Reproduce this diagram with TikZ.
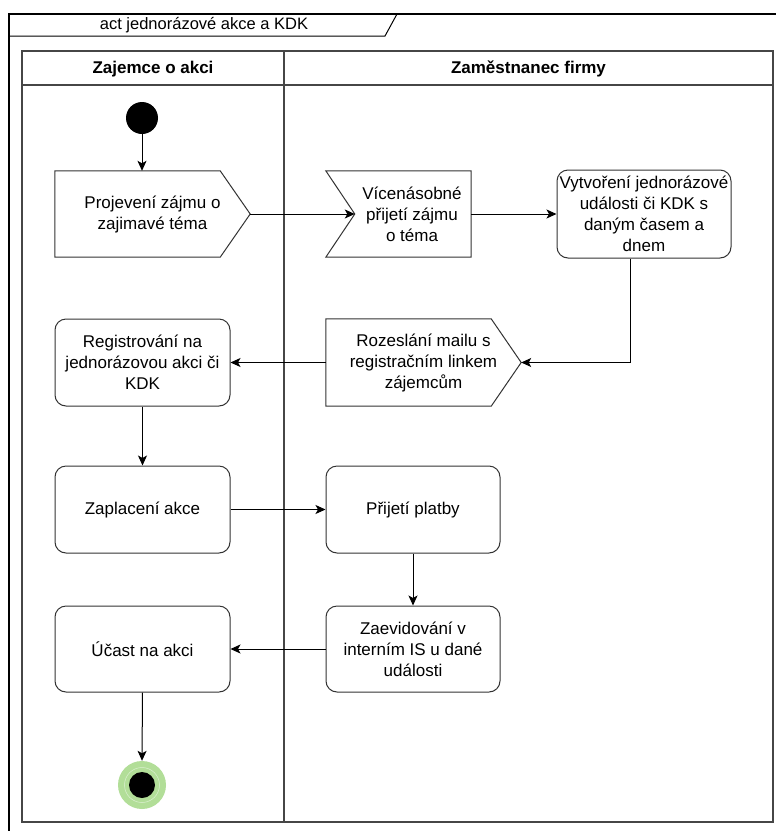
\documentclass[tikz,border=0pt]{standalone}
\usepackage{fontspec}
\setmainfont{Liberation Sans}
\usetikzlibrary{arrows.meta,calc}
\definecolor{endgreen}{RGB}{178,222,152}
\definecolor{lanegray}{RGB}{70,70,70}
\tikzset{
  act/.style={draw=black!80, line width=1pt, rounded corners=11pt, align=center,
    inner sep=0pt, font=\fontsize{17}{21}\selectfont},
  txt/.style={align=center, inner sep=0pt, font=\fontsize{17}{21}\selectfont},
  box/.style={inner sep=0pt},
  outline/.style={draw=black!80, line width=1pt},
  flow/.style={line width=1pt, -{Stealth[length=10pt,width=9pt,inset=2.5pt]}},
  head/.style={font=\bfseries\fontsize{17}{21}\selectfont, inner sep=0pt},
}
\begin{document}
\begin{tikzpicture}[x=1pt,y=-1pt]
\useasboundingbox (0,0) rectangle (776,831);
\fill[white] (0,0) rectangle (776,831);

% frame with its name tab
\draw[line width=1.3pt] (9,840) -- (9,14) -- (790,14);
\draw[line width=1pt] (9,36) -- (385,36) -- (397,14);
\node[txt, font=\fontsize{16.5}{20}\selectfont] (title) at (204,25.5) {act jednorázové akce a KDK};

% swimlanes
\draw[lanegray, line width=1.3pt] (22,51) rectangle (773,822);
\draw[lanegray, line width=1.3pt] (22,85) -- (773,85);
\draw[lanegray, line width=1.3pt] (284,51) -- (284,822);
\node[head] (laneA) at (153,69) {Zajemce o akci};
\node[head] (laneB) at (528.5,69) {Zaměstnanec firmy};

% start and end states
\node[circle, fill=black, minimum size=32pt, inner sep=0pt] (start) at (142,118) {};
\node[circle, fill=endgreen, minimum size=48pt, inner sep=0pt] (end) at (142,785) {};
\draw[white!55!endgreen, line width=0.5pt] (end.center) circle (17.5);
\fill[black] (end.center) circle (13);

% send signal: Projevení zájmu
\node[box, minimum width=195pt, minimum height=86pt] (n1) at (152.5,214) {};
\draw[outline] (n1.north west) -- ([xshift=-30pt]n1.north east) -- (n1.east)
  -- ([xshift=-30pt]n1.south east) -- (n1.south west) -- cycle;
\node[txt] (n1t) at (n1.center) {Projevení zájmu o\\zajimavé téma};

% accept signal: Vícenásobné přijetí
\node[box, minimum width=145pt, minimum height=86pt] (n2) at (398.5,214) {};
\coordinate (n2in) at ([xshift=29pt]n2.west);
\draw[outline] (n2.north west) -- (n2.north east) -- (n2.south east)
  -- (n2.south west) -- (n2in) -- cycle;
\node[txt] (n2t) at (412,214) {Vícenásobné\\přijetí zájmu\\o téma};

% Vytvoření události
\node[act, minimum width=174pt, minimum height=88pt] (n3) at (644,214)
  {Vytvoření jednorázové\\události či KDK s\\daným časem a\\dnem};

% send signal: Rozeslání mailu
\node[box, minimum width=195pt, minimum height=87pt] (n4) at (423.5,362.5) {};
\draw[outline] (n4.north west) -- ([xshift=-30pt]n4.north east) -- (n4.east)
  -- ([xshift=-30pt]n4.south east) -- (n4.south west) -- cycle;
\node[txt] (n4t) at (n4.center) {Rozeslání mailu s\\registračním linkem\\zájemcům};

% remaining actions
\node[act, minimum width=175pt, minimum height=87pt] (n5) at (142.5,362.5)
  {Registrování na\\jednorázovou akci či\\KDK};
\node[act, minimum width=175pt, minimum height=87pt] (n6) at (142.5,509.5)
  {Zaplacení akce};
\node[act, minimum width=174pt, minimum height=87pt] (n7) at (413,509.5)
  {Přijetí platby};
\node[act, minimum width=174pt, minimum height=86pt] (n8) at (413,649)
  {Zaevidování v\\interním IS u dané\\události};
\node[act, minimum width=175pt, minimum height=86pt] (n9) at (142.5,649)
  {Účast na akci};

% control flow
\draw[flow] (start.south) -- (n1.north -| start.south);
\draw[flow] (n1.east) -- (n2in);
\draw[flow] (n2.east) -- (n3.west);
\draw[flow] ([xshift=-14pt]n3.south) |- (n4.east);
\draw[flow] (n4.west) -- (n5.east);
\draw[flow] (n5.south) -- (n6.north);
\draw[flow] (n6.east) -- (n7.west);
\draw[flow] (n7.south) -- (n8.north);
\draw[flow] (n8.west) -- (n9.east);
\draw[flow] (n9.south) -- (end.north);
\end{tikzpicture}
\end{document}
